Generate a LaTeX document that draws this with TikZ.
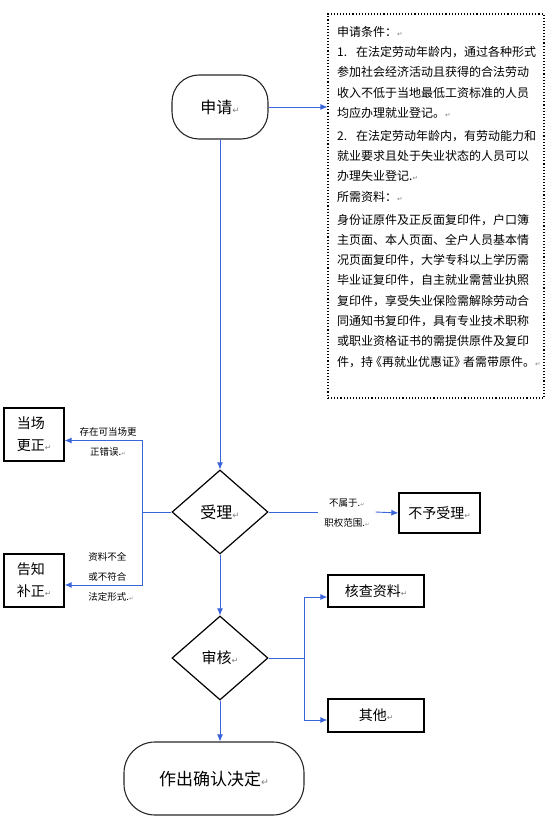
\documentclass[tikz,border=0pt]{standalone}
\usepackage{fontspec}
\setmainfont{Noto Sans CJK SC}
\newfontfamily\symf{DejaVu Sans}
\usetikzlibrary{arrows.meta,shapes.geometric}
\definecolor{flowblue}{RGB}{58,100,218}
\newcommand{\pmk}{\scalebox{0.55}{\symf\color{gray}↵}}
\tikzset{
  conn/.style={draw=flowblue, line width=0.9pt},
  arr/.style={conn, -{Latex[length=7pt,width=6pt]}},
  box/.style={draw=black, line width=1.3pt, inner sep=0pt, font=\fontsize{14}{22}\selectfont, align=left},
  roundbox/.style={draw=black!85, line width=1.1pt, inner sep=0pt},
  decision/.style={diamond, draw=black, line width=1.2pt, inner sep=0pt, minimum width=96pt, minimum height=84pt},
  lbl/.style={font=\fontsize{9.5}{20}\selectfont, inner sep=0pt},
}
\begin{document}
\begin{tikzpicture}[x=1pt,y=-1pt]
\useasboundingbox (0,0) rectangle (551,818);
% info frame and text
\node[draw=black, dotted, line width=1.1pt, minimum width=216pt, minimum height=384pt, inner sep=0pt] (info) at (436,206) {};
\node[anchor=north west, inner sep=0pt, align=left, font=\fontsize{12}{20.3}\selectfont] (infotext) at (337,26) {%
申请条件：\pmk\\
1.\hspace{9pt}在法定劳动年龄内，通过各种形式\\
参加社会经济活动且获得的合法劳动\\
收入不低于当地最低工资标准的人员\\
均应办理就业登记。\pmk\\[2.5pt]
2.\hspace{9pt}在法定劳动年龄内，有劳动能力和\\
就业要求且处于失业状态的人员可以\\
办理失业登记.\pmk\\
所需资料：\pmk\\[2.5pt]
身份证原件及正反面复印件，户口簿\\
主页面、本人页面、全户人员基本情\\
况页面复印件，大学专科以上学历需\\
毕业证复印件，自主就业需营业执照\\
复印件，享受失业保险需解除劳动合\\
同通知书复印件，具有专业技术职称\\
或职业资格证书的需提供原件及复印\\
件，持\kern-3pt《再就业优惠证》\kern-3pt者需带原件。\pmk};
% main nodes
\node[roundbox, rounded corners=27pt, minimum width=96pt, minimum height=64pt, font=\fontsize{16}{16}\selectfont] (apply) at (220,107) {申请\pmk};
\node[decision, font=\fontsize{16}{16}\selectfont] (accept) at (220,512) {受理\pmk};
\node[decision, font=\fontsize{15}{15}\selectfont] (review) at (220,658) {审核\pmk};
\node[roundbox, rounded corners=31pt, minimum width=180pt, minimum height=73pt, font=\fontsize{17}{17}\selectfont] (decide) at (214,778.5) {作出确认决定\pmk};
\node[box, minimum width=60pt, minimum height=53pt] (fix) at (34,434.5) {当场\\更正\pmk};
\node[box, minimum width=60pt, minimum height=53pt] (notify) at (34,580.5) {告知\\补正\pmk};
\node[box, minimum width=81pt, minimum height=40pt] (reject) at (439.5,513) {不予受理\pmk};
\node[box, minimum width=96pt, minimum height=32pt] (check) at (376,591) {核查资料\pmk};
\node[box, minimum width=96pt, minimum height=33pt] (other) at (376,715.5) {其他\pmk};
% labels
\node[lbl, align=center] (lfix) at (108,442) {存在可当场更\\正错误.\pmk};
\node[lbl, align=left] (lnot) at (111,576.5) {资料不全\\或不符合\\法定形式.\pmk};
\node[lbl, align=center, inner xsep=6pt] (lrej) at (347,513) {不属于.\pmk\\职权范围.\pmk};
% connectors
\draw[arr] (apply.east) -- (apply.east -| info.west);
\draw[arr] (apply.south) -- (accept.north);
\draw[conn] (accept.west) -- ++(-29,0) coordinate (jl);
\draw[arr] (jl) |- ([yshift=-6pt]fix.east);
\draw[arr] (jl) |- ([yshift=-4.5pt]notify.east);
\draw[conn] (accept.east) -- (accept.east -| lrej.west);
\draw[arr] (accept.east -| lrej.east) -- (reject.west);
\draw[arr] (accept.south) -- (review.north);
\draw[conn] (review.east) -- ++(36,0) coordinate (jr);
\draw[arr] (jr) |- ([yshift=-6pt]check.west);
\draw[arr] (jr) |- ([yshift=-4.5pt]other.west);
\draw[arr] (review.south) -- (review.south |- decide.north);
\end{tikzpicture}
\end{document}
